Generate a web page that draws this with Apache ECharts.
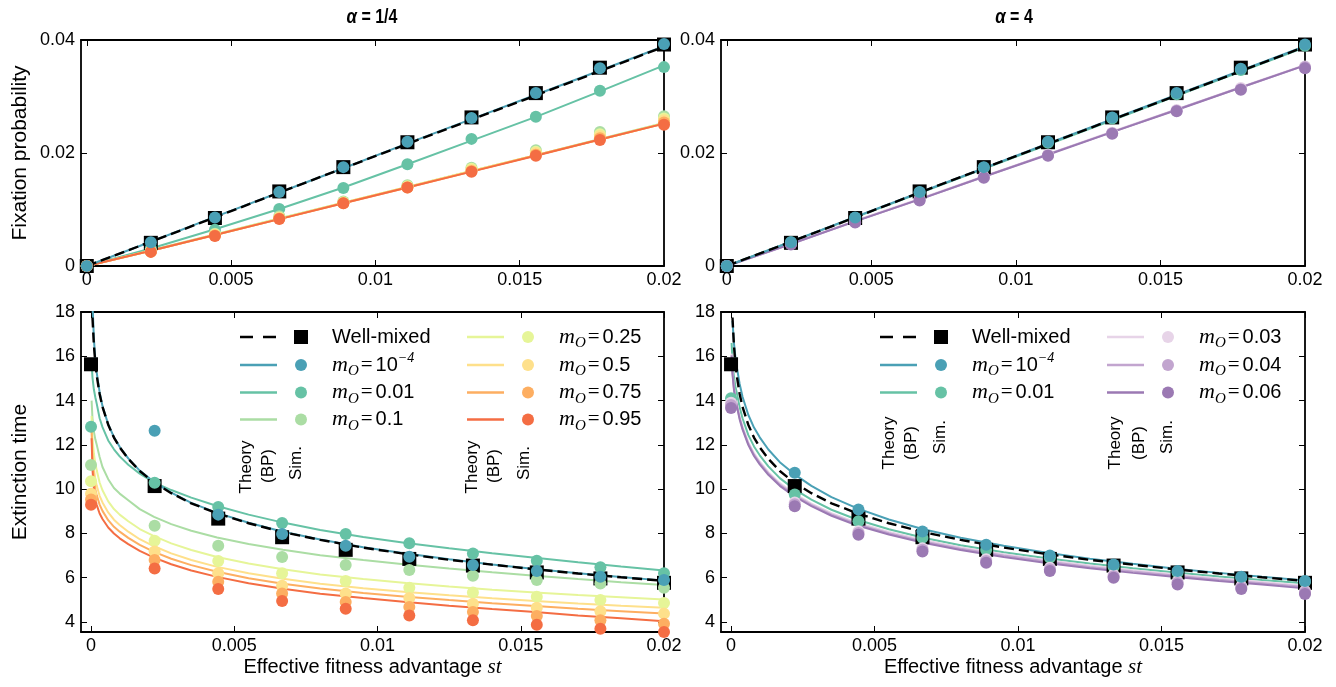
<!DOCTYPE html>
<html lang="en">
  <head>
    <meta charset="UTF-8" />
    <title>Fixation probability and extinction time</title>
    <style>
      html,
      body {
        margin: 0;
        width: 100%;
        height: 100%;
        background: #fff;
      }
      #chart {
        width: 1336px;
        height: 687px;
      }
    </style>
    <script src="https://cdn.jsdelivr.net/npm/echarts@6/dist/echarts.min.js"></script>
  </head>
  <body>
    <div id="chart"></div>
    <script>
      // x positions of the simulation points and of the theory curves
      const simX = [0, 0.00222, 0.00444, 0.00667, 0.00889, 0.01111, 0.01333, 0.01556, 0.01778, 0.02]
      const curveX = [0.00002, 0.00005, 0.0001, 0.00015, 0.0002, 0.0003, 0.0004, 0.0006, 0.0008, 0.001, 0.0013, 0.0017, 0.0022,
        0.0028, 0.0035, 0.0044, 0.0055, 0.0067, 0.008, 0.0095, 0.011, 0.0125, 0.014, 0.0155, 0.017, 0.0185, 0.02]

      const xTicks = [0, 0.005, 0.01, 0.015, 0.02]
      const fixTicks = [0, 0.02, 0.04]
      const extTicks = [4, 6, 8, 10, 12, 14, 16, 18]

      // well-mixed (same in both columns)
      const fixWmTheory = [0, 0.0043, 0.0086, 0.013, 0.0173, 0.0216, 0.0259, 0.0302, 0.0345, 0.0388]
      const fixWmSim = [0, 0.0041, 0.0085, 0.0132, 0.0175, 0.0219, 0.0263, 0.0306, 0.0351, 0.0392]
      const extWmTheory = [null, 17.75, 16.51, 15.69, 15.12, 14.3, 13.72, 12.91, 12.33, 11.89, 11.37, 10.82, 10.3,
        9.82, 9.36, 8.91, 8.46, 8.06, 7.71, 7.36, 7.07, 6.81, 6.59, 6.38, 6.19, 6.02, 5.86]
      const extWmSim = [15.64, 10.14, 8.67, 7.83, 7.26, 6.85, 6.55, 6.24, 5.97, 5.77]

      // alpha = 1/4, fixation probability
      const fixA_m1e4Theory = [0, 0.0043, 0.0087, 0.013, 0.0173, 0.0217, 0.026, 0.0303, 0.0346, 0.0389]
      const fixA_m1e4Sim = [0, 0.0042, 0.0086, 0.0131, 0.0175, 0.022, 0.0262, 0.0306, 0.035, 0.0393]
      const fixA_m001Theory = [0, 0.0031, 0.0065, 0.0101, 0.0139, 0.018, 0.0222, 0.0264, 0.0309, 0.0355]
      const fixA_m001Sim = [0, 0.0031, 0.0064, 0.0101, 0.0138, 0.018, 0.0225, 0.0264, 0.031, 0.0352]
      const fixA_m01Theory = [0, 0.0028, 0.0056, 0.0084, 0.0112, 0.014, 0.0168, 0.0196, 0.0225, 0.0253]
      const fixA_m01Sim = [0, 0.0027, 0.0057, 0.0088, 0.0114, 0.0143, 0.0174, 0.0205, 0.0237, 0.0265]
      const fixA_m025Theory = [0, 0.0027, 0.0056, 0.0084, 0.0112, 0.014, 0.0168, 0.0196, 0.0224, 0.0253]
      const fixA_m025Sim = [0, 0.0026, 0.0056, 0.0086, 0.0113, 0.0141, 0.0172, 0.0202, 0.0233, 0.0261]
      const fixA_m05Theory = [0, 0.0027, 0.0055, 0.0083, 0.0112, 0.014, 0.0168, 0.0196, 0.0224, 0.0252]
      const fixA_m05Sim = [0, 0.0026, 0.0055, 0.0085, 0.0112, 0.014, 0.017, 0.02, 0.023, 0.0258]
      const fixA_m075Theory = [0, 0.0027, 0.0055, 0.0083, 0.0111, 0.0139, 0.0167, 0.0196, 0.0224, 0.0252]
      const fixA_m075Sim = [0, 0.0025, 0.0054, 0.0084, 0.0111, 0.0139, 0.0168, 0.0197, 0.0226, 0.0254]
      const fixA_m095Theory = [0, 0.0027, 0.0055, 0.0083, 0.0111, 0.0139, 0.0167, 0.0195, 0.0224, 0.0252]
      const fixA_m095Sim = [0, 0.0025, 0.0053, 0.0083, 0.0111, 0.0139, 0.0167, 0.0195, 0.0223, 0.025]

      // alpha = 4, fixation probability
      const fixB_m1e4Theory = [0, 0.0043, 0.0087, 0.013, 0.0173, 0.0217, 0.026, 0.0303, 0.0346, 0.0389]
      const fixB_m1e4Sim = [0, 0.0042, 0.0086, 0.0131, 0.0175, 0.022, 0.0263, 0.0306, 0.0349, 0.0392]
      const fixB_m001Theory = [0, 0.0043, 0.0086, 0.0129, 0.0172, 0.0215, 0.0258, 0.0301, 0.0344, 0.0387]
      const fixB_m001Sim = [0, 0.0042, 0.0085, 0.013, 0.0174, 0.0218, 0.0261, 0.0304, 0.0347, 0.039]
      const fixB_m003Theory = [0, 0.004, 0.008, 0.0119, 0.0159, 0.0198, 0.0238, 0.0277, 0.0317, 0.0356]
      const fixB_m003Sim = [0, 0.0039, 0.0078, 0.0118, 0.0158, 0.0197, 0.0236, 0.0276, 0.0315, 0.0353]
      const fixB_m004Theory = [0, 0.0039, 0.0079, 0.0118, 0.0158, 0.0198, 0.0237, 0.0277, 0.0316, 0.0355]
      const fixB_m004Sim = [0, 0.0039, 0.0078, 0.0117, 0.0157, 0.0196, 0.0235, 0.0275, 0.0313, 0.0352]
      const fixB_m006Theory = [0, 0.0039, 0.0079, 0.0118, 0.0158, 0.0197, 0.0237, 0.0276, 0.0316, 0.0355]
      const fixB_m006Sim = [0, 0.0038, 0.0077, 0.0116, 0.0156, 0.0195, 0.0234, 0.0274, 0.0312, 0.035]

      // alpha = 1/4, extinction time
      const extA_m1e4Theory = [null, 18.4, 16.8, 15.85, 15.25, 14.38, 13.75, 12.93, 12.35, 11.91, 11.39, 10.84, 10.32,
        9.84, 9.38, 8.93, 8.48, 8.08, 7.73, 7.38, 7.09, 6.83, 6.6, 6.39, 6.2, 6.03, 5.87]
      const extA_m1e4Sim = [null, 12.64, 8.85, 7.98, 7.44, 6.95, 6.58, 6.3, 6.05, 5.9]
      const extA_m001Theory = [15.7, 15.05, 14.5, 14.15, 13.85, 13.2, 12.8, 12.2, 11.8, 11.48, 11.1, 10.7, 10.3,
        9.96, 9.62, 9.24, 8.85, 8.49, 8.16, 7.84, 7.57, 7.33, 7.11, 6.9, 6.7, 6.51, 6.33]
      const extA_m001Sim = [12.82, 10.29, 9.2, 8.47, 7.98, 7.56, 7.1, 6.77, 6.47, 6.2]
      const extA_m01Theory = [14.0, 13.2, 12.6, 12.25, 12.0, 11.45, 11.0, 10.45, 10.05, 9.8, 9.5, 9.1, 8.75,
        8.42, 8.12, 7.82, 7.52, 7.26, 7.02, 6.8, 6.6, 6.42, 6.25, 6.09, 5.94, 5.8, 5.67]
      const extA_m01Sim = [11.09, 8.35, 7.45, 6.94, 6.58, 6.35, 6.09, 5.9, 5.74, 5.55]
      const extA_m025Theory = [13.3, 12.3, 11.6, 11.15, 10.85, 10.3, 9.95, 9.45, 9.1, 8.85, 8.55, 8.2, 7.88,
        7.55, 7.25, 6.94, 6.64, 6.38, 6.15, 5.94, 5.76, 5.6, 5.46, 5.33, 5.22, 5.12, 5.02]
      const extA_m025Sim = [10.36, 7.67, 6.76, 6.2, 5.85, 5.55, 5.33, 5.14, 4.99, 4.86]
      const extA_m05Theory = [12.9, 11.7, 10.9, 10.45, 10.15, 9.7, 9.4, 8.95, 8.62, 8.38, 8.08, 7.74, 7.42,
        7.1, 6.8, 6.49, 6.2, 5.95, 5.73, 5.53, 5.36, 5.21, 5.07, 4.95, 4.84, 4.74, 4.65]
      const extA_m05Sim = [9.79, 7.18, 6.2, 5.64, 5.29, 5.09, 4.83, 4.64, 4.49, 4.38]
      const extA_m075Theory = [12.6, 11.3, 10.45, 10.0, 9.72, 9.3, 9.02, 8.6, 8.3, 8.08, 7.8, 7.48, 7.17,
        6.86, 6.57, 6.27, 5.98, 5.73, 5.51, 5.31, 5.14, 4.99, 4.85, 4.72, 4.6, 4.49, 4.38]
      const extA_m075Sim = [9.53, 6.8, 5.82, 5.29, 4.91, 4.68, 4.45, 4.27, 4.08, 3.92]
      const extA_m095Theory = [12.3, 10.9, 10.0, 9.55, 9.28, 8.9, 8.65, 8.27, 8.0, 7.78, 7.52, 7.21, 6.91,
        6.61, 6.33, 6.04, 5.75, 5.5, 5.28, 5.08, 4.9, 4.74, 4.59, 4.45, 4.3, 4.17, 4.04]
      const extA_m095Sim = [9.3, 6.42, 5.49, 4.95, 4.6, 4.3, 4.08, 3.88, 3.7, 3.55]

      // alpha = 4, extinction time
      const extB_m1e4Theory = [null, 17.6, 16.61, 15.99, 15.52, 14.75, 14.17, 13.36, 12.78, 12.34, 11.79, 11.22, 10.68,
        10.15, 9.64, 9.13, 8.63, 8.19, 7.81, 7.44, 7.13, 6.86, 6.63, 6.41, 6.22, 6.04, 5.88]
      const extB_m1e4Sim = [null, 10.74, 9.08, 8.09, 7.49, 7.0, 6.6, 6.3, 6.05, 5.85]
      const extB_m001Theory = [16.6, 15.8, 15.1, 14.65, 14.35, 13.7, 13.2, 12.45, 11.93, 11.53, 11.03, 10.5, 10.0,
        9.53, 9.07, 8.62, 8.19, 7.81, 7.47, 7.15, 6.88, 6.64, 6.43, 6.24, 6.06, 5.9, 5.75]
      const extB_m001Sim = [14.1, 9.76, 8.55, 7.8, 7.25, 6.9, 6.5, 6.24, 6.0, 5.82]
      const extB_m003Theory = [16.12, 15.32, 14.62, 14.17, 13.87, 13.27, 12.82, 12.12, 11.62, 11.24, 10.77, 10.27, 9.8,
        9.35, 8.92, 8.48, 8.07, 7.7, 7.37, 7.06, 6.79, 6.55, 6.34, 6.15, 5.97, 5.81, 5.64]
      const extB_m003Sim = [13.9, 9.4, 8.1, 7.33, 6.83, 6.45, 6.13, 5.83, 5.62, 5.4]
      const extB_m004Theory = [16.06, 15.26, 14.56, 14.11, 13.81, 13.21, 12.76, 12.06, 11.56, 11.18, 10.71, 10.21, 9.74,
        9.29, 8.86, 8.42, 8.01, 7.64, 7.31, 7.0, 6.73, 6.49, 6.28, 6.09, 5.91, 5.75, 5.58]
      const extB_m004Sim = [13.8, 9.32, 8.02, 7.26, 6.76, 6.38, 6.07, 5.77, 5.56, 5.34]
      const extB_m006Theory = [16.0, 15.2, 14.5, 14.05, 13.75, 13.15, 12.7, 12.0, 11.5, 11.12, 10.65, 10.15, 9.68,
        9.23, 8.8, 8.36, 7.95, 7.58, 7.25, 6.94, 6.67, 6.43, 6.22, 6.03, 5.85, 5.69, 5.52]
      const extB_m006Sim = [13.67, 9.23, 7.94, 7.18, 6.68, 6.3, 6.0, 5.7, 5.49, 5.27]

      const colors = {
        wm: '#000000',
        m1e4: '#4aa0b5',
        m001: '#66c2a5',
        m01: '#abdda4',
        m025: '#e6f598',
        m05: '#fee08b',
        m075: '#fdae61',
        m095: '#f46d43',
        m003: '#e7d4e8',
        m004: '#c2a5cf',
        m006: '#9b79b3'
      }

      const sans = "'Liberation Sans', Arial, sans-serif"
      const serif = "'Liberation Serif', 'DejaVu Serif', serif"

      const grids = [
        { left: 81, top: 40, width: 583, height: 226 },
        { left: 721, top: 40, width: 584, height: 226 },
        { left: 81, top: 312, width: 583, height: 320 },
        { left: 721, top: 312, width: 584, height: 320 }
      ]

      const fmt = v => String(+v.toFixed(4))
      const pairs = (xs, ys) => xs.map((x, i) => [x, ys[i]]).filter(p => p[1] != null)

      const axisLine = { onZero: false, lineStyle: { color: '#000', width: 1.8 } }

      function xAxes(g, min, withName) {
        const base = {
          gridIndex: g,
          type: 'value',
          min,
          max: 0.02,
          splitLine: { show: false },
          axisLine,
          axisTick: { inside: true, length: 6, customValues: xTicks, lineStyle: { color: '#000', width: 1 } }
        }
        const bottom = Object.assign({}, base, {
          position: 'bottom',
          axisLabel: { customValues: xTicks, formatter: fmt, color: '#000', fontSize: 18, fontFamily: sans, margin: 5 }
        })
        if (withName) {
          bottom.name = '{a|Effective fitness advantage }{b|st}'
          bottom.nameLocation = 'middle'
          bottom.nameGap = 25
          bottom.nameTextStyle = {
            rich: {
              a: { fontSize: 20, fontFamily: sans, color: '#000' },
              b: { fontSize: 21, fontFamily: serif, fontStyle: 'italic', color: '#000' }
            }
          }
        }
        const top = Object.assign({}, base, { position: 'top', axisLabel: { show: false } })
        return [bottom, top]
      }

      function yAxes(g, min, max, ticks, name, gap) {
        const base = {
          gridIndex: g,
          type: 'value',
          min,
          max,
          splitLine: { show: false },
          axisLine,
          axisTick: { inside: true, length: 6, customValues: ticks, lineStyle: { color: '#000', width: 1 } }
        }
        const left = Object.assign({}, base, {
          position: 'left',
          axisLabel: { customValues: ticks, formatter: fmt, color: '#000', fontSize: 18, fontFamily: sans, margin: 6 }
        })
        if (name) {
          left.name = name
          left.nameLocation = 'middle'
          left.nameGap = gap
          left.nameTextStyle = { fontSize: 21, fontFamily: sans, color: '#000' }
        }
        const right = Object.assign({}, base, { position: 'right', axisLabel: { show: false } })
        return [left, right]
      }

      function theory(g, xs, ys, color, dashed) {
        return {
          type: 'line',
          xAxisIndex: 2 * g,
          yAxisIndex: 2 * g,
          data: pairs(xs, ys),
          symbol: 'none',
          smooth: false,
          silent: true,
          lineStyle: { color, width: dashed ? 2.4 : 2, type: dashed ? [10, 5] : 'solid' },
          z: dashed ? 4 : 3
        }
      }

      function sim(g, ys, color, square) {
        return {
          type: 'scatter',
          xAxisIndex: 2 * g,
          yAxisIndex: 2 * g,
          data: pairs(simX, ys),
          symbol: square ? 'rect' : 'circle',
          symbolSize: square ? 14 : 12,
          silent: true,
          itemStyle: { color, opacity: 1 },
          z: 5
        }
      }

      // panel contents: [key, theory array, sim array]
      const fixA = [
        ['m001', fixA_m001Theory, fixA_m001Sim],
        ['m01', fixA_m01Theory, fixA_m01Sim],
        ['m025', fixA_m025Theory, fixA_m025Sim],
        ['m05', fixA_m05Theory, fixA_m05Sim],
        ['m075', fixA_m075Theory, fixA_m075Sim],
        ['m095', fixA_m095Theory, fixA_m095Sim]
      ]
      const fixB = [
        ['m001', fixB_m001Theory, fixB_m001Sim],
        ['m003', fixB_m003Theory, fixB_m003Sim],
        ['m004', fixB_m004Theory, fixB_m004Sim],
        ['m006', fixB_m006Theory, fixB_m006Sim]
      ]
      const extA = [
        ['m001', extA_m001Theory, extA_m001Sim],
        ['m01', extA_m01Theory, extA_m01Sim],
        ['m025', extA_m025Theory, extA_m025Sim],
        ['m05', extA_m05Theory, extA_m05Sim],
        ['m075', extA_m075Theory, extA_m075Sim],
        ['m095', extA_m095Theory, extA_m095Sim]
      ]
      const extB = [
        ['m001', extB_m001Theory, extB_m001Sim],
        ['m003', extB_m003Theory, extB_m003Sim],
        ['m004', extB_m004Theory, extB_m004Sim],
        ['m006', extB_m006Theory, extB_m006Sim]
      ]

      function panel(g, xs, rows, blueTheory, blueSim, wmTheory, wmSim) {
        const out = []
        rows.forEach(r => out.push(theory(g, xs, r[1], colors[r[0]], false)))
        out.push(theory(g, xs, blueTheory, colors.m1e4, false))
        out.push(theory(g, xs, wmTheory, colors.wm, true))
        out.push(sim(g, wmSim, colors.wm, true))
        rows.forEach(r => out.push(sim(g, r[2], colors[r[0]])))
        out.push(sim(g, blueSim, colors.m1e4))
        return out
      }

      const series = [].concat(
        panel(0, simX, fixA, fixA_m1e4Theory, fixA_m1e4Sim, fixWmTheory, fixWmSim),
        panel(1, simX, fixB, fixB_m1e4Theory, fixB_m1e4Sim, fixWmTheory, fixWmSim),
        panel(2, curveX, extA, extA_m1e4Theory, extA_m1e4Sim, extWmTheory, extWmSim),
        panel(3, curveX, extB, extB_m1e4Theory, extB_m1e4Sim, extWmTheory, extWmSim)
      )

      // legend drawn by hand: line sample, marker, label
      const mathRich = {
        m: { fontFamily: serif, fontStyle: 'italic', fontSize: 22, lineHeight: 28, color: '#000' },
        o: { fontFamily: serif, fontStyle: 'italic', fontSize: 15, lineHeight: 11, verticalAlign: 'bottom', color: '#000' },
        eq: { fontFamily: serif, fontSize: 21, lineHeight: 28, padding: [0, 3, 0, 2], color: '#000' },
        n: { fontFamily: sans, fontSize: 20, lineHeight: 28, color: '#000' },
        p: { fontFamily: serif, fontStyle: 'italic', fontSize: 14, lineHeight: 11, verticalAlign: 'top', color: '#000' },
        t: { fontFamily: sans, fontSize: 20, lineHeight: 28, color: '#000' }
      }
      const labels = {
        wm: '{t|Well-mixed}',
        m1e4: '{m|m}{o|O}{eq|=}{n|10}{p|−4}',
        m001: '{m|m}{o|O}{eq|=}{n|0.01}',
        m01: '{m|m}{o|O}{eq|=}{n|0.1}',
        m025: '{m|m}{o|O}{eq|=}{n|0.25}',
        m05: '{m|m}{o|O}{eq|=}{n|0.5}',
        m075: '{m|m}{o|O}{eq|=}{n|0.75}',
        m095: '{m|m}{o|O}{eq|=}{n|0.95}',
        m003: '{m|m}{o|O}{eq|=}{n|0.03}',
        m004: '{m|m}{o|O}{eq|=}{n|0.04}',
        m006: '{m|m}{o|O}{eq|=}{n|0.06}'
      }

      const graphics = []
      function legendRow(x, y, key) {
        const c = colors[key]
        const wm = key === 'wm'
        graphics.push({
          type: 'line',
          silent: true,
          shape: { x1: x, y1: y, x2: x + 37, y2: y },
          style: { stroke: c, lineWidth: 2.4, lineDash: wm ? [13, 10] : null }
        })
        if (wm) {
          graphics.push({ type: 'rect', silent: true, shape: { x: x + 54, y: y - 7, width: 14, height: 14 }, style: { fill: c } })
        } else {
          graphics.push({ type: 'circle', silent: true, shape: { cx: x + 61, cy: y, r: 6 }, style: { fill: c } })
        }
        graphics.push({
          type: 'text',
          silent: true,
          x: x + 92,
          y,
          style: { text: labels[key], rich: mathRich, align: 'left', verticalAlign: 'middle' }
        })
      }
      const rowY = [337, 365, 392.5, 419.5]
      ;['wm', 'm1e4', 'm001', 'm01'].forEach((k, i) => legendRow(240, rowY[i], k))
      ;['m025', 'm05', 'm075', 'm095'].forEach((k, i) => legendRow(467, rowY[i], k))
      ;['wm', 'm1e4', 'm001'].forEach((k, i) => legendRow(880, rowY[i], k))
      ;['m003', 'm004', 'm006'].forEach((k, i) => legendRow(1107, rowY[i], k))

      function rotText(text, x, y) {
        graphics.push({
          type: 'text',
          silent: true,
          x,
          y,
          rotation: Math.PI / 2,
          style: { text, fontSize: 17, fontFamily: sans, fill: '#000', align: 'center', verticalAlign: 'middle' }
        })
      }
      rotText('Theory', 246, 467)
      rotText('(BP)', 268, 466)
      rotText('Sim.', 296, 463)
      rotText('Theory', 472, 467)
      rotText('(BP)', 494, 466)
      rotText('Sim.', 524, 463)
      rotText('Theory', 889, 443)
      rotText('(BP)', 911, 443)
      rotText('Sim.', 940, 437)
      rotText('Theory', 1115, 443)
      rotText('(BP)', 1139, 443)
      rotText('Sim.', 1167, 437)

      // panel titles, narrowed to look like the condensed bold face of the original
      const titleRich = {
        a: { fontFamily: sans, fontStyle: 'italic', fontWeight: 'bold', fontSize: 21, color: '#000' },
        b: { fontFamily: sans, fontWeight: 'bold', fontSize: 20, color: '#000' }
      }
      graphics.push({ type: 'text', silent: true, x: 372, y: 17, scaleX: 0.8, style: { text: '{a|α}{b| = 1/4}', rich: titleRich, align: 'center', verticalAlign: 'middle' } })
      graphics.push({ type: 'text', silent: true, x: 1014, y: 17, scaleX: 0.8, style: { text: '{a|α}{b| = 4}', rich: titleRich, align: 'center', verticalAlign: 'middle' } })

      const chart = echarts.init(document.getElementById('chart'))
      chart.setOption({
        animation: false,
        backgroundColor: '#fff',
        grid: grids,
        xAxis: [].concat(xAxes(0, -0.0002, false), xAxes(1, -0.0002, false), xAxes(2, -0.00035, true), xAxes(3, -0.00035, true)),
        yAxis: [].concat(
          yAxes(0, 0, 0.04, fixTicks, 'Fixation probability', 50),
          yAxes(1, 0, 0.04, fixTicks, null),
          yAxes(2, 3.55, 18, extTicks, 'Extinction time', 50),
          yAxes(3, 3.55, 18, extTicks, null)
        ),
        series,
        graphic: graphics
      })
    </script>
  </body>
</html>
